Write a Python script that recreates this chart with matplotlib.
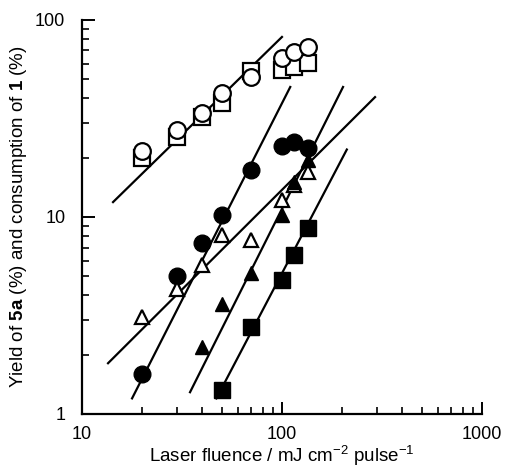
import matplotlib.pyplot as plt

plt.rcParams['font.family'] = ['Liberation Sans', 'DejaVu Sans']
plt.rcParams['mathtext.fontset'] = 'custom'
plt.rcParams['mathtext.rm'] = 'Liberation Sans'
plt.rcParams['mathtext.bf'] = 'Liberation Sans:bold'

# data
fluence = [20, 30, 40, 50, 70, 100, 115, 135]
open_circle = [21.5, 27.7, 33.7, 42.6, 51.4, 64, 68.8, 72.9]
open_square = [20, 25.5, 32.2, 37.9, 55, 55.7, 57.7, 60.5]
filled_circle = [1.6, 5.0, 7.4, 10.2, 17.3, 23, 24, 22.5]
open_tri = [3.1, 4.3, 5.7, 8.1, 7.6, 12.2, 14.5, 17]
fluence_ft = [40, 50, 70, 100, 115, 135]
filled_tri = [2.2, 3.6, 5.2, 10.2, 15, 19.5]
fluence_fs = [50, 70, 100, 115, 135]
filled_square = [1.32, 2.77, 4.8, 6.4, 8.8]

# fitted lines: end points
fit_oc_x = [14.3, 100]
fit_oc_y = [11.9, 82]
fit_fc_x = [17.8, 110]
fit_fc_y = [1.2, 45.7]
fit_ot_x = [13.5, 292]
fit_ot_y = [1.81, 40.6]
fit_ft_x = [34.7, 202]
fit_ft_y = [1.29, 45.7]
fit_fs_x = [47, 211]
fit_fs_y = [1.2, 22]

fig = plt.figure(figsize=(5.06, 4.68), dpi=100)
ax = fig.add_axes([0.162, 0.1154, 0.7905, 0.8419])

for fx, fy in [(fit_oc_x, fit_oc_y), (fit_fc_x, fit_fc_y), (fit_ot_x, fit_ot_y),
               (fit_ft_x, fit_ft_y), (fit_fs_x, fit_fs_y)]:
    ax.plot(fx, fy, color='black', lw=1.6, zorder=2)

ms = 11.5
ax.plot(fluence, open_square, 's', ms=ms, mfc='white', mec='black', mew=1.6, zorder=3)
ax.plot(fluence, open_circle, 'o', ms=ms + 0.5, mfc='white', mec='black', mew=1.6, zorder=4)
ax.plot(fluence, filled_circle, 'o', ms=ms + 0.5, color='black', zorder=3)
ax.plot(fluence, open_tri, '^', ms=ms - 1, mfc='white', mec='black', mew=1.6, zorder=3)
ax.plot(fluence_ft, filled_tri, '^', ms=ms - 1, color='black', zorder=4)
ax.plot(fluence_fs, filled_square, 's', ms=ms, color='black', zorder=4)

ax.set_xscale('log')
ax.set_yscale('log')
ax.set_xlim(10, 1000)
ax.set_ylim(1, 100)

ax.spines['top'].set_visible(False)
ax.spines['right'].set_visible(False)
ax.spines['left'].set_linewidth(1.6)
ax.spines['bottom'].set_linewidth(1.6)
ax.tick_params(which='major', direction='in', length=9, width=1.4, labelsize=13)
ax.tick_params(axis='x', which='major', pad=9)
ax.tick_params(axis='y', which='major', pad=12)
ax.tick_params(which='minor', direction='in', length=5, width=1.2)
ax.set_xticks([10, 100, 1000], ['10', '100', '1000'])
ax.set_yticks([1, 10, 100], ['1', '10', '100'])

ax.set_xlabel(r'Laser fluence / mJ cm$^{-2}$ pulse$^{-1}$', fontsize=13.5, labelpad=0)
ax.set_ylabel(r'Yield of $\mathbf{5a}$ (%) and consumption of $\mathbf{1}$ (%)', fontsize=13.5, labelpad=4)

fig.savefig('out.png', dpi=100)
